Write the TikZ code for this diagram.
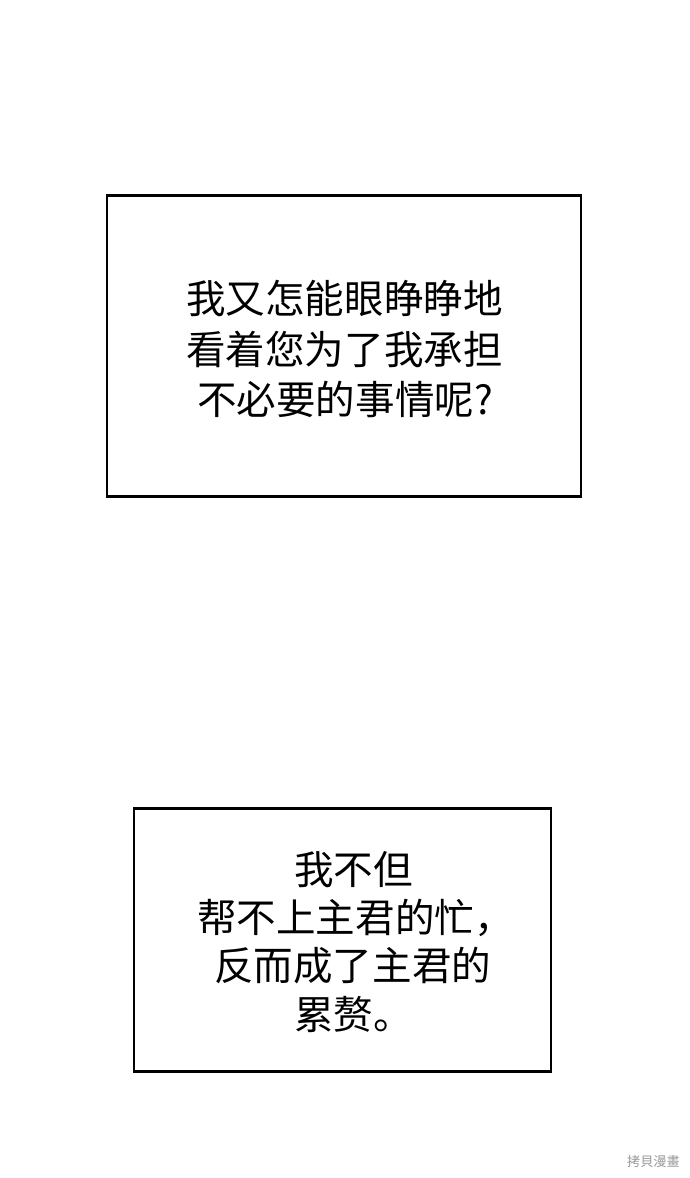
\documentclass[tikz,border=0pt]{standalone}
\usepackage{fontspec}
\newfontfamily\cjk{Noto Sans CJK SC}
\usetikzlibrary{positioning}
\tikzset{
  panel/.style={draw=black, line width=1.7pt},
  line/.style={font=\cjk\fontsize{22.5}{26}\selectfont, inner sep=0pt, anchor=west},
  watermark/.style={font=\cjk\fontsize{7.5}{8}\selectfont, text=gray!80}
}
\begin{document}
\begin{tikzpicture}[x=0.02cm,y=-0.02cm]
        %画布和边框
        \useasboundingbox (0,0) rectangle (690,1178);
        \draw[panel] (107,195) rectangle (581,496);
        \draw[panel] (134,808) rectangle (551,1071);
        
        %第一段
        \node[line] (l1) at (186,298) {我又怎能眼睁睁地};
        \node[line] (l2) at (186,349) {看着您为了我承担};
        \node[line] (l3) at (197,399) {不必要的事情呢?};
        
        %第二段
        \node[line] (m1) at (294,870) {我不但};
        \node[line] (m2) at (197,918) {帮不上主君的忙，};
        \node[line] (m3) at (214,966) {反而成了主君的};
        \node[line] (m4) at (294,1014) {累赘。};
        
        \node[watermark, anchor=east] (wm) at (686,1161) {拷貝漫畫};
\end{tikzpicture}
\end{document}
